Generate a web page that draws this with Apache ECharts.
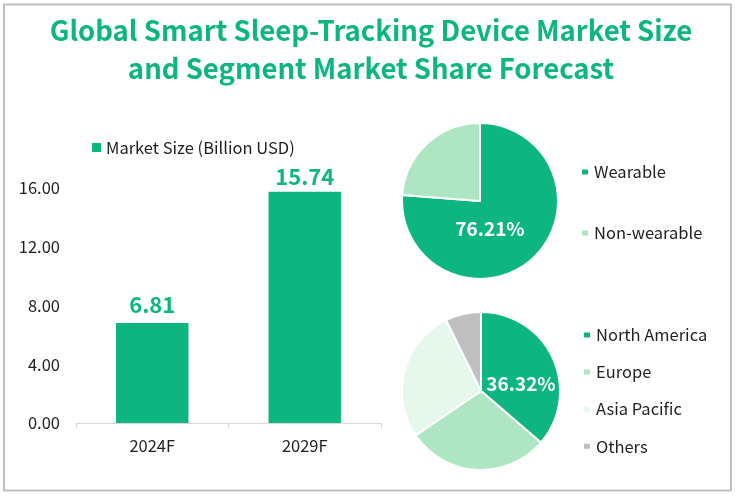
<!DOCTYPE html>
<html>
<head>
<meta charset="utf-8">
<style>
  html, body { margin: 0; padding: 0; background: #fff; }
  #chart { width: 735px; height: 498px; }
</style>
<script src="https://cdn.jsdelivr.net/npm/echarts@6/dist/echarts.min.js"></script>
</head>
<body>
<div id="chart"></div>
<script>
var titleText = 'Global Smart Sleep-Tracking Device Market Size\nand Segment Market Share Forecast';
var years = ['2024F', '2029F'];
var marketSize = [6.81, 15.74];
var deviceNames = ['Wearable', 'Non-wearable'];
var deviceShare = [76.21, 23.79];
var regionNames = ['North America', 'Europe', 'Asia Pacific', 'Others'];
var regionShare = [36.32, 29.2, 27.2, 7.28];
var sliceColors = ['#0DB680', '#AEE5C3', '#E6F7EC', '#BFBFBF'];

var fontName = '"Noto Sans CJK SC", "Noto Sans", sans-serif';
var textColor = '#1F1F1F';
var green = '#0DB680';
var legendText = { fontFamily: fontName, fontSize: 16.5, lineHeight: 17, color: textColor };

function pieData(names, values) {
  return names.map(function (name, i) {
    return {
      name: name,
      value: values[i],
      itemStyle: { color: sliceColors[i] },
      label: { show: i === 0 }
    };
  });
}

function sideLegend(names, left, top, gap) {
  return {
    data: names,
    orient: 'vertical',
    left: left,
    top: top,
    padding: 0,
    icon: 'rect',
    itemWidth: 8,
    itemHeight: 7,
    itemGap: gap,
    selectedMode: false,
    textStyle: legendText
  };
}

function pieSeries(name, data, center, radius, labelX, labelY) {
  return {
    name: name,
    type: 'pie',
    center: center,
    radius: radius,
    startAngle: 90,
    animation: false,
    percentPrecision: 2,
    data: data,
    itemStyle: { borderColor: '#fff', borderWidth: 2 },
    emphasis: { disabled: true },
    labelLine: { show: false },
    label: {
      position: 'inside',
      formatter: '{d}%',
      color: '#fff',
      fontFamily: fontName,
      fontSize: 19,
      fontWeight: 'bold'
    },
    labelLayout: { x: labelX, y: labelY, align: 'center', verticalAlign: 'middle' }
  };
}

var chart = echarts.init(document.getElementById('chart'), null, { renderer: 'canvas' });
chart.setOption({
  backgroundColor: '#fff',
  animation: false,
  title: {
    text: titleText,
    left: 366,
    textAlign: 'center',
    top: 6,
    textStyle: { fontFamily: fontName, fontSize: 27.5, fontWeight: 'bold', color: green, lineHeight: 38.5 }
  },
  graphic: [{
    type: 'rect',
    silent: true,
    z: -1,
    shape: { x: 4, y: 4.5, width: 727, height: 486 },
    style: { fill: '#fff', stroke: '#BFBFBF', lineWidth: 2 }
  }],
  legend: [
    {
      data: ['Market Size (Billion USD)'],
      left: 92,
      top: 139,
      padding: 0,
      icon: 'rect',
      itemWidth: 9,
      itemHeight: 9,
      selectedMode: false,
      textStyle: legendText
    },
    sideLegend(deviceNames, 580, 163.5, 44),
    sideLegend(regionNames, 582, 326.5, 20.1)
  ],
  grid: { left: 76, right: 354, top: 188, bottom: 75 },
  xAxis: {
    type: 'category',
    data: years,
    axisLine: { lineStyle: { color: '#D9D9D9' } },
    axisTick: { show: true, length: 5, lineStyle: { color: '#D9D9D9' } },
    axisLabel: { fontFamily: fontName, fontSize: 16.5, color: textColor, margin: 14 }
  },
  yAxis: {
    type: 'value',
    min: 0,
    max: 16,
    interval: 4,
    splitLine: { show: false },
    axisLine: { show: false },
    axisTick: { show: false },
    axisLabel: {
      fontFamily: fontName,
      fontSize: 16.5,
      color: textColor,
      margin: 16,
      formatter: function (v) { return v.toFixed(2); }
    }
  },
  series: [
    {
      name: 'Market Size (Billion USD)',
      type: 'bar',
      data: [
        { value: marketSize[0], label: { distance: 7 } },
        { value: marketSize[1], label: { distance: 4 } }
      ],
      barWidth: '47.5%',
      itemStyle: { color: green },
      label: {
        show: true,
        position: 'top',
        formatter: function (p) { return p.value.toFixed(2); },
        fontFamily: fontName,
        fontSize: 22,
        fontWeight: 'bold',
        color: green
      }
    },
    pieSeries('Device type', pieData(deviceNames, deviceShare), [480, 201], 78, 490, 229),
    pieSeries('Region', pieData(regionNames, regionShare), [481, 391], 79, 521, 384)
  ]
});
</script>
</body>
</html>
